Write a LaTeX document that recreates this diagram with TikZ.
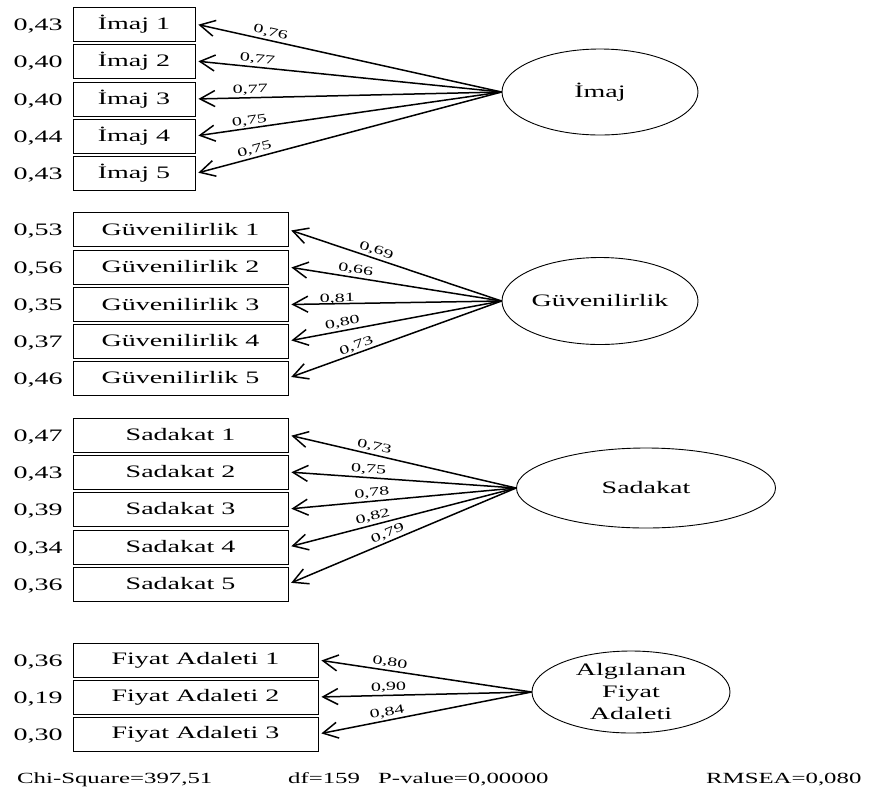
\documentclass[tikz,border=0pt]{standalone}
\usepackage{fontspec}
\setmainfont{Liberation Serif}[FakeStretch=1.6]
\usetikzlibrary{arrows.meta,shapes.geometric}
\newcommand{\fsmain}{\fontsize{17.5}{22}\selectfont}
\newcommand{\fsfit}{\fontsize{15.5}{18}\selectfont}
\newcommand{\fslbl}{\fontsize{12.5}{12.5}\selectfont}
\tikzset{
  obsbox/.style={draw, line width=0.8pt, minimum height=34pt, inner sep=0pt, font=\fsmain},
  errval/.style={font=\fsmain, inner sep=0pt, anchor=base},
  latent/.style={draw, ellipse, line width=0.9pt, inner sep=0pt, font=\fsmain, align=center},
  load/.style={line width=1.5pt, shorten >=3pt, -{Straight Barb[length=15pt,width=16pt,line width=1.5pt]}},
  lbl/.style={sloped, above=1pt, font=\fslbl, inner sep=1pt},
  fit/.style={font=\fsfit, inner sep=0pt, anchor=base west}
}
\begin{document}
\begin{tikzpicture}[x=1pt,y=-1pt]
\useasboundingbox[fill=white] (0,0) rectangle (876,796);

% ---------- Imaj ----------
\foreach \i/\y/\e in {1/24/{0,43}, 2/61/{0,40}, 3/99/{0,40}, 4/136/{0,44}, 5/173.5/{0,43}}{
  \node[obsbox, minimum width=122pt] (im\i) at (134,\y) {İmaj \i};
  \node[errval] (eim\i) at (38,\y+6) {\e};
}
\node[latent, minimum width=196pt, minimum height=86pt] (IM) at (600,92) {İmaj};
\draw[load] (IM.west) -- node[lbl,pos=0.76] {0,76} (im1.east);
\draw[load] (IM.west) -- node[lbl,pos=0.80] {0,77} (im2.east);
\draw[load] (IM.west) -- node[lbl,pos=0.82] {0,77} (im3.east);
\draw[load] (IM.west) -- node[lbl,pos=0.82,above=-1pt] {0,75} (im4.east);
\draw[load] (IM.west) -- node[lbl,pos=0.80] {0,75} (im5.east);

% ---------- Guvenilirlik ----------
\foreach \i/\y/\e in {1/229.5/{0,53}, 2/267/{0,56}, 3/304.5/{0,35}, 4/341/{0,37}, 5/378/{0,46}}{
  \node[obsbox, minimum width=215pt] (gv\i) at (180.5,\y) {Güvenilirlik \i};
  \node[errval] (egv\i) at (38,\y+6) {\e};
}
\node[latent, minimum width=196pt, minimum height=87pt] (GV) at (600,301) {Güvenilirlik};
\draw[load] (GV.west) -- node[lbl,pos=0.60] {0,69} (gv1.east);
\draw[load] (GV.west) -- node[lbl,pos=0.69] {0,66} (gv2.east);
\draw[load] (GV.west) -- node[lbl,pos=0.77,above=-3pt] {0,81} (gv3.east);
\draw[load] (GV.west) -- node[lbl,pos=0.74] {0,80} (gv4.east);
\draw[load] (GV.west) -- node[lbl,pos=0.67,above=-1pt] {0,73} (gv5.east);

% ---------- Sadakat ----------
\foreach \i/\y/\e in {1/435/{0,47}, 2/472/{0,43}, 3/509/{0,39}, 4/547/{0,34}, 5/584/{0,36}}{
  \node[obsbox, minimum width=215pt] (sd\i) at (180.5,\y) {Sadakat \i};
  \node[errval] (esd\i) at (38,\y+6) {\e};
}
\node[latent, minimum width=259pt, minimum height=80pt] (SD) at (646,488) {Sadakat};
\draw[load] (SD.west) -- node[lbl,pos=0.63] {0,73} (sd1.east);
\draw[load] (SD.west) -- node[lbl,pos=0.65] {0,75} (sd2.east);
\draw[load] (SD.west) -- node[lbl,pos=0.63] {0,78} (sd3.east);
\draw[load] (SD.west) -- node[lbl,pos=0.62] {0,82} (sd4.east);
\draw[load] (SD.west) -- node[lbl,pos=0.55] {0,79} (sd5.east);

% ---------- Fiyat Adaleti ----------
\foreach \i/\y/\e in {1/660/{0,36}, 2/697/{0,19}, 3/734/{0,30}}{
  \node[obsbox, minimum width=245pt] (fa\i) at (195.5,\y) {Fiyat Adaleti \i};
  \node[errval] (efa\i) at (38,\y+6) {\e};
}
\node[latent, minimum width=198pt, minimum height=82pt] (FA) at (631,692) {Algılanan\\Fiyat\\Adaleti};
\draw[load] (FA.west) -- node[lbl,pos=0.67] {0,80} (fa1.east);
\draw[load] (FA.west) -- node[lbl,pos=0.67] {0,90} (fa2.east);
\draw[load] (FA.west) -- node[lbl,pos=0.67] {0,84} (fa3.east);

% ---------- fit statistics ----------
\node[fit] (chi) at (17,783) {Chi-Square=397,51};
\node[fit] (df) at (288,783) {df=159};
\node[fit] (pv) at (378,783) {P-value=0,00000};
\node[fit] (rm) at (706,783) {RMSEA=0,080};
\end{tikzpicture}
\end{document}
